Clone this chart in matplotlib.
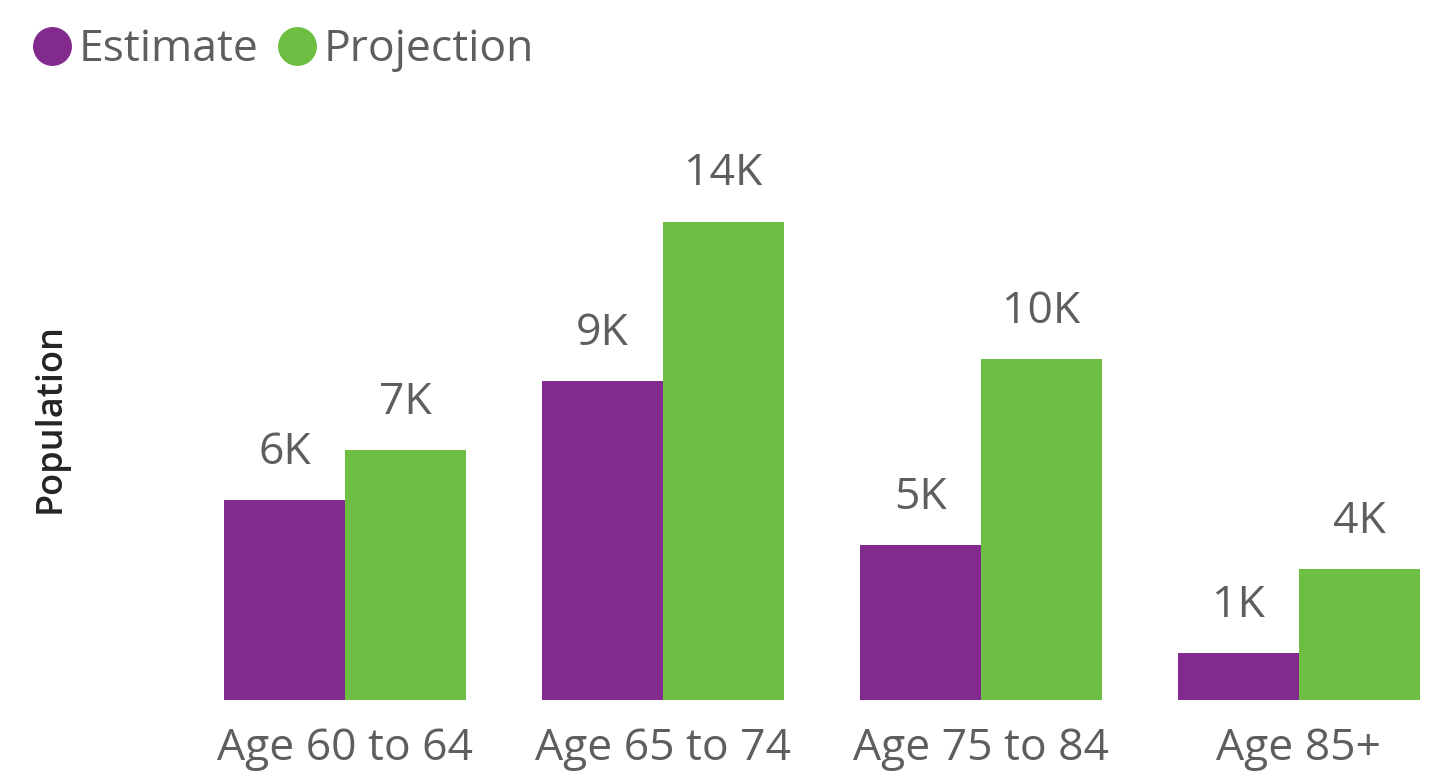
import numpy as np
import matplotlib
matplotlib.use("Agg")
import matplotlib.pyplot as plt
from matplotlib.lines import Line2D

# Datos
categorias = ["Age 60 to 64", "Age 65 to 74", "Age 75 to 84", "Age 85+"]
estimate = [5850, 9330, 4520, 1370]
projection = [7300, 13990, 9970, 3830]

purple = "#822A8D"
green = "#6EBE44"
gris = "#605E5C"

plt.rcParams["font.family"] = ["Open Sans", "DejaVu Sans"]

fig = plt.figure(figsize=(14.3, 7.76), dpi=100)
W, H = 1430, 776
ancho = 0.381
izq, der = 224, 1420
base, tope = 700, 100
ax = fig.add_axes([izq / W, (H - base) / H, (der - izq) / W, (base - tope) / H])

x = np.arange(len(categorias))
b1 = ax.bar(x - ancho / 2, estimate, ancho, color=purple)
b2 = ax.bar(x + ancho / 2, projection, ancho, color=green)

def etiqueta(v):
    return f"{round(v / 1000):.0f}K"

for barras, vals in [(b1, estimate), (b2, projection)]:
    for rect, v in zip(barras, vals):
        ax.annotate(etiqueta(v), (rect.get_x() + rect.get_width() / 2, v),
                    xytext=(0, 26), textcoords="offset points",
                    ha="center", va="baseline", fontsize=32, color=gris)

ax.set_xlim(-ancho, len(categorias) - 1 + ancho)
ax.set_ylim(0, 600 / 34.2 * 1000)
ax.set_xticks(x)
ax.set_xticklabels(categorias, fontsize=32, color=gris)
ax.tick_params(axis="x", length=0, pad=19)
ax.set_yticks([])
for s in ax.spines.values():
    s.set_visible(False)

fig.text(51 / W, 1 - 418 / H, "Population", rotation=90, ha="center", va="center",
         fontsize=26, fontweight="semibold", color="#252423")

# Leyenda
handles = [Line2D([], [], marker="o", linestyle="", markersize=27, color=purple),
           Line2D([], [], marker="o", linestyle="", markersize=27, color=green)]
fig.legend(handles, ["Estimate", "Projection"], loc="center left",
           bbox_to_anchor=(30 / W, 1 - 50 / H), ncol=2, frameon=False,
           fontsize=32, labelcolor=gris, handletextpad=0.1, columnspacing=0.35,
           handlelength=1.0, borderpad=0, borderaxespad=0)

fig.savefig("out.png", dpi=100)
